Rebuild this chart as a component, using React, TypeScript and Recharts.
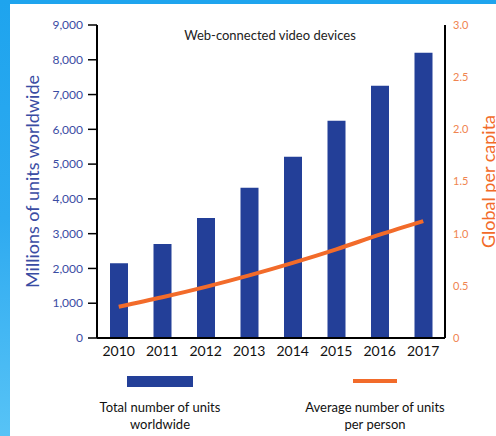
import { ComposedChart, Bar, Line, XAxis, YAxis, Legend } from 'recharts'

const YEARS = ['2010', '2011', '2012', '2013', '2014', '2015', '2016', '2017']
const UNITS = [2150, 2700, 3450, 4320, 5210, 6250, 7250, 8200]
const PER_CAPITA = [0.3, 0.39, 0.49, 0.6, 0.72, 0.85, 0.99, 1.12]
const LEFT_TICKS = [0, 1000, 2000, 3000, 4000, 5000, 6000, 7000, 8000, 9000]
const RIGHT_TICKS = [0, 0.5, 1.0, 1.5, 2.0, 2.5, 3.0]

const data = YEARS.map((year, i) => ({ year, units: UNITS[i], perCapita: PER_CAPITA[i] }))

const BLUE = '#233f98'
const ORANGE = '#f26b2a'
const FONT = 'Lato, "Open Sans", sans-serif'

const LegendBox = () => (
  <div style={{ position: 'relative', height: 60, fontFamily: FONT, fontSize: 13, color: '#111', lineHeight: '17px' }}>
    <div style={{ position: 'absolute', left: 80, width: 160, textAlign: 'center' }}>
      <div style={{ width: 66, height: 11, background: BLUE, margin: '0 auto 12px' }} />
      Total number of units<br />worldwide
    </div>
    <div style={{ position: 'absolute', left: 295, width: 160, textAlign: 'center' }}>
      <div style={{ width: 44, height: 4, background: ORANGE, margin: '3px auto 16px' }} />
      Average number of units<br />per person
    </div>
  </div>
)

export default function App() {
  return (
    <div style={{ position: 'absolute', left: 0, top: 0, width: 496, height: 436, overflow: 'hidden',
      background: 'linear-gradient(180deg, #1ea4ee 0%, #2eaaf0 50%, #57c3f6 100%)' }}>
      <div style={{ position: 'absolute', left: 10, top: 4, right: 0, bottom: 0, background: '#fff' }} />
      <div style={{ position: 'absolute', left: 0, top: 0 }}>
        <ComposedChart width={496} height={436} data={data} margin={{ top: 25, right: 0, left: 0, bottom: 8 }}
          style={{ fontFamily: FONT }}>
          <XAxis dataKey="year" axisLine={{ stroke: '#000', strokeWidth: 2 }} tickLine={false}
            tick={{ fontSize: 14, fill: '#111' }} height={30} />
          <YAxis yAxisId="left" width={97} domain={[0, 9000]} ticks={LEFT_TICKS} interval={0}
            tickFormatter={v => v.toLocaleString('en-US')}
            axisLine={{ stroke: '#000', strokeWidth: 2 }} tickLine={{ stroke: '#000', strokeWidth: 1.5 }}
            tickSize={9} tickMargin={5} tick={{ fontSize: 12, fill: '#3a4ca3' }}
            label={({ viewBox }: any) => (
              <text x={32} y={viewBox.y + viewBox.height / 2} transform={`rotate(-90 32 ${viewBox.y + viewBox.height / 2})`}
                textAnchor="middle" dominantBaseline="central" fill="#3a4ca3" fontSize={18} fontFamily={FONT}>
                Millions of units worldwide
              </text>
            )} />
          <YAxis yAxisId="right" orientation="right" width={51} domain={[0, 3]} ticks={RIGHT_TICKS} interval={0}
            tickFormatter={v => (v === 0 ? '0' : v.toFixed(1))}
            axisLine={{ stroke: '#000', strokeWidth: 2 }} tickLine={false}
            tick={{ fontSize: 11, fill: '#f08450' }}
            label={({ viewBox }: any) => (
              <text x={488} y={viewBox.y + viewBox.height / 2} transform={`rotate(-90 488 ${viewBox.y + viewBox.height / 2})`}
                textAnchor="middle" dominantBaseline="central" fill={ORANGE} fontSize={18} fontFamily={FONT}>
                Global per capita
              </text>
            )} />
          <Legend verticalAlign="bottom" content={<LegendBox />}
            wrapperStyle={{ left: 0, top: 376, width: 496, bottom: 'auto' }} />
          <text x={270} y={35} textAnchor="middle" dominantBaseline="central" fontSize={13} fill="#222" fontFamily={FONT}>
            Web-connected video devices
          </text>
          <Bar yAxisId="left" dataKey="units" fill={BLUE} barSize={18} isAnimationActive={false} />
          <Line yAxisId="right" dataKey="perCapita" type="monotone" stroke={ORANGE} strokeWidth={4} dot={false}
            isAnimationActive={false} />
        </ComposedChart>
      </div>
    </div>
  )
}
